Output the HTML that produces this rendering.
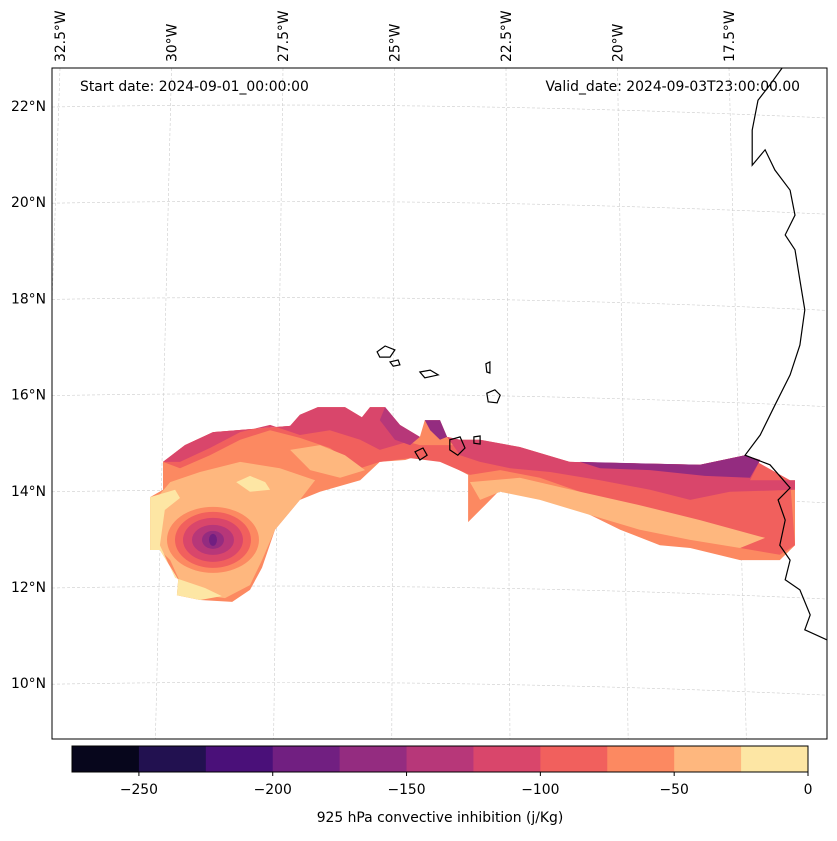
<!DOCTYPE html>
<html><head><meta charset="utf-8"><style>
body{margin:0;background:#fff;font-family:"Liberation Sans","DejaVu Sans",sans-serif}
svg text{font-family:"DejaVu Sans","Liberation Sans",sans-serif;font-size:13.9px;fill:#000}
</style></head><body>
<svg id="c" width="837" height="836" viewBox="0 0 837 836" xmlns="http://www.w3.org/2000/svg">
<defs><clipPath id="mapclip"><rect x="52" y="68" width="775" height="671"/></clipPath></defs>
<rect x="52" y="68" width="775" height="671" fill="#fff"/>
<g id="grid" clip-path="url(#mapclip)"></g>
<g id="fields" clip-path="url(#mapclip)"></g>
<g id="coast" clip-path="url(#mapclip)"></g>
<rect x="52" y="68" width="775" height="671" fill="none" stroke="#000" stroke-width="1"/>
<text x="80" y="91">Start date: 2024-09-01_00:00:00</text>
<text x="800" y="91" text-anchor="end">Valid_date: 2024-09-03T23:00:00.00</text>
<g id="labels"></g>
<g id="cbar"></g>
<text x="440" y="822" text-anchor="middle">925 hPa convective inhibition (j/Kg)</text>
</svg>
<script>
const NS="http://www.w3.org/2000/svg";
const levels=[-275,-250,-225,-200,-175,-150,-125,-100,-75,-50,-25,0];
const levelColors=["#07061c","#221150","#4a1079","#711f81","#942c80","#b73779","#d9466b","#f1605d","#fc8961","#feb77e","#fde6a4"];
const cbarTicks=[-250,-200,-150,-100,-50,0];
const latTicks=[22,20,18,16,14,12,10];
const lonTicks=[-32.5,-30,-27.5,-25,-22.5,-20,-17.5];
function px(x){return -32.5+(x-60)/44.6;}
function py(y){return 22-(y-106)/48.1;}
function P(a){const r=[];for(let i=0;i<a.length;i+=2)r.push([+px(a[i]).toFixed(2),+py(a[i+1]).toFixed(2)]);return r;}
const contours=[
[8,P([150,497,163,490,163,462,185,445,213,432,290,426,300,415,318,407,345,407,362,417,370,407,385,407,400,425,420,437,425,420,440,420,447,437,460,440,480,440,520,447,570,462,700,465,745,455,760,460,750,480,795,480,795,545,780,560,740,560,690,548,660,545,620,530,580,510,540,495,500,490,485,505,468,522,468,475,440,460,420,455,405,460,380,462,360,480,320,492,300,500,275,530,262,568,250,590,232,602,200,600,177,595,178,580,160,550,150,550])],
[7,P([163,462,185,445,213,432,290,426,380,430,400,440,420,445,470,445,520,450,570,462,700,465,745,455,790,480,795,545,780,555,740,548,700,532,660,520,620,505,580,492,540,478,500,470,470,475,440,462,410,458,380,462,360,468,330,448,300,438,270,430,240,440,210,455,180,468])],
[6,P([163,462,185,445,213,432,290,426,300,415,318,407,345,407,362,417,370,407,385,407,400,425,415,440,380,450,360,440,330,430,300,435,270,425,240,432,210,448,180,462])],
[6,P([447,437,460,440,480,440,520,447,570,462,700,465,745,455,760,460,750,480,795,480,795,490,730,492,690,500,650,490,600,480,550,472,510,468,480,462,460,455])],
[5,P([380,420,385,407,400,425,420,437,410,445,395,440])],
[4,P([580,462,700,465,745,455,760,460,750,478,705,476,650,470,600,468])],
[4,P([425,420,440,420,447,437,440,440,430,430])],
[9,P([155,500,170,482,200,472,240,462,280,468,315,480,300,500,275,530,262,560,250,585,225,598,185,593,170,560,155,545])],
[9,P([470,482,520,478,580,492,640,505,700,520,765,538,740,548,690,540,640,530,590,515,540,500,500,492,480,500])],
[9,P([290,450,320,445,345,455,365,470,340,478,310,470])],
[10,P([150,497,175,490,180,498,165,510,160,545,175,578,205,588,222,596,200,600,177,595,178,580,160,550,150,550])],
[10,P([236,482,250,476,265,482,270,490,250,492])]
];
const centre=[-29.07,12.98];
const rings=[[8,46,33],[7,38,28],[6,30,22],[5,21,15],[4,11,9],[3,4,6]];
const coastline=P([782,68,770,85,758,100,752,130,752,165,765,150,775,170,790,190,795,215,785,235,795,250,800,280,805,310,800,345,790,375,775,405,760,435,745,455,770,465,790,488,778,500,785,520,780,545,790,560,785,580,800,590,810,615,805,630,827,640]);
const islands=[P([377,352,385,346,395,350,390,357,380,357]),P([390,362,398,360,400,365,393,366]),P([420,372,430,370,438,375,425,378]),P([487,393,495,390,500,395,497,403,488,402]),P([486,364,490,362,490,373,487,372]),P([450,440,460,437,465,448,458,455,450,450]),P([415,452,423,448,427,455,420,460]),P([474,437,480,436,480,444,474,443])];

function X(lon,lat){return 60+(lon+32.5)*44.6;}
function Y(lon,lat){return 106+(22-lat)*48.1;}
function pts(poly){return poly.map(p=>X(p[0],p[1]).toFixed(1)+","+Y(p[0],p[1]).toFixed(1)).join(" ");}
function el(t,a,parent){const e=document.createElementNS(NS,t);for(const k in a)e.setAttribute(k,a[k]);parent.appendChild(e);return e;}

const grid=document.getElementById('grid');
latTicks.forEach(lat=>{
 const l=el('path',{d:`M52 ${Y(0,lat)+1} Q440 ${Y(0,lat)-6} 827 ${Y(0,lat)+12}`,fill:'none',stroke:'#ccc','stroke-width':0.6,'stroke-dasharray':'3,2'},grid);
 
 
});
lonTicks.concat([-15]).forEach(lon=>{
 const xt=X(lon,22), xb=440+(xt-440)*1.06;
 const l=el('line',{x1:xt,y1:68,x2:xb,y2:739,stroke:'#ccc','stroke-width':0.6,'stroke-dasharray':'3,2'},grid);
 
 
});
const fields=document.getElementById('fields');
contours.forEach(c=>{
 const p=el('polygon',{points:pts(c[1]),fill:levelColors[c[0]]},fields);
 
 
});
rings.forEach(r=>{
 const e=el('ellipse',{cx:X(centre[0],centre[1]),cy:Y(centre[0],centre[1]),rx:r[1],ry:r[2],fill:levelColors[r[0]]},fields);
 
 
});
const coast=document.getElementById('coast');
const cl=el('polyline',{points:pts(coastline),fill:'none',stroke:'#000','stroke-width':1.2},coast);


islands.forEach(is=>{
 const p=el('polygon',{points:pts(is),fill:'none',stroke:'#000','stroke-width':1.2},coast);
 
 
});
const labels=document.getElementById('labels');
latTicks.forEach(lat=>{
 const t=el('text',{x:46,y:Y(0,lat)+5,'text-anchor':'end'},labels);
 t.textContent=lat+"°N";
 
 
});
lonTicks.forEach(lon=>{
 const x=X(lon,22)+5;
 const t=el('text',{x:x,y:62,transform:`rotate(-90 ${x} 62)`},labels);
 t.textContent=Math.abs(lon)+"°W";
 
 
});
const cb=document.getElementById('cbar');
const cx0=72,cx1=808,cy0=746,ch=26;
function CX(v){return cx0+(v-levels[0])/(levels[levels.length-1]-levels[0])*(cx1-cx0);}
levelColors.forEach((col,i)=>{
 const r=el('rect',{x:CX(levels[i]),y:cy0,width:CX(levels[i+1])-CX(levels[i])+0.5,height:ch,fill:col},cb);
 
 
});
const fr=el('rect',{x:cx0,y:cy0,width:cx1-cx0,height:ch,fill:'none',stroke:'#000','stroke-width':1},cb);


cbarTicks.forEach(v=>{
 const tk=el('line',{x1:CX(v),y1:cy0+ch,x2:CX(v),y2:cy0+ch+4,stroke:'#000'},cb);
 
 
 const t=el('text',{x:CX(v),y:794,'text-anchor':'middle'},cb);
 t.textContent=v<0?"\u2212"+Math.abs(v):String(v);
 
 
});
</script>
</body></html>
